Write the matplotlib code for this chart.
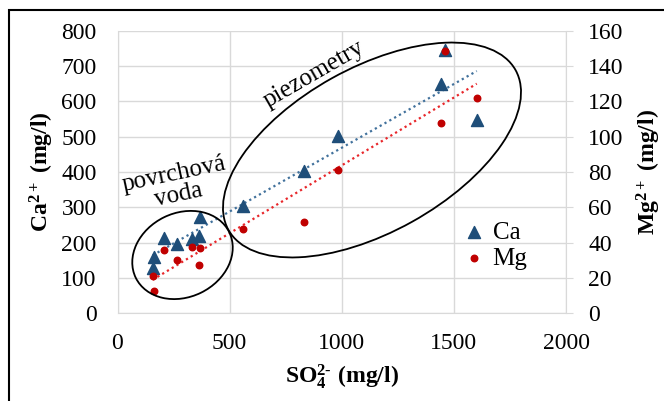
import numpy as np
import matplotlib
matplotlib.use('Agg')
import matplotlib.pyplot as plt
from matplotlib.patches import Ellipse, Rectangle
from matplotlib.transforms import IdentityTransform

plt.rcParams['font.family'] = 'Liberation Serif'
plt.rcParams['mathtext.fontset'] = 'custom'
plt.rcParams['mathtext.rm'] = 'Liberation Serif:bold'
plt.rcParams['mathtext.it'] = 'Liberation Serif:bold'
plt.rcParams['mathtext.bf'] = 'Liberation Serif:bold'

# data
so4 = [157, 162, 206, 266, 333, 362, 368, 558, 833, 984, 1442, 1460, 1602]
ca = [127, 160, 213, 197, 210, 220, 272, 304, 404, 501, 650, 745, 548]
mg = [21.4, 12.4, 36, 30.4, 37.4, 27.2, 37, 47.7, 51.8, 81, 107.8, 148.7, 122]

ca_color = '#1F4E79'
mg_color = '#C00000'
grid_color = '#D9D9D9'

fig = plt.figure(figsize=(6.64, 4.01), dpi=100)
ax = fig.add_axes([117.5/664, 1-313.3/401, 448.5/664, 282.6/401])
ax2 = ax.twinx()

ax.set_xlim(0, 2000)
ax.set_ylim(0, 800)
ax2.set_ylim(0, 160)
ax.set_xticks(np.arange(0, 2001, 500))
ax.set_yticks(np.arange(0, 801, 100))
ax2.set_yticks(np.arange(0, 161, 20))

ax.grid(True, color=grid_color, linewidth=1)
ax.set_axisbelow(True)
for a in (ax, ax2):
    for s in a.spines.values():
        s.set_visible(False)
ax.spines['left'].set_visible(True)
ax.spines['left'].set_color(grid_color)
ax.spines['bottom'].set_visible(True)
ax.spines['bottom'].set_color(grid_color)
ax2.spines['right'].set_visible(True)
ax2.spines['right'].set_color(grid_color)

ax.tick_params(axis='x', length=0, labelsize=17, pad=14)
ax.tick_params(axis='y', length=0, labelsize=17, pad=15)
ax2.tick_params(axis='y', length=5, color=grid_color, labelsize=17, pad=11)

# scatter
ax.scatter(so4, ca, marker='^', s=75, color=ca_color, zorder=3, label='Ca')
ax2.scatter(so4, mg, marker='o', s=22, color=mg_color, zorder=3, label='Mg')

# linear trendlines
xs = np.array([min(so4), max(so4)])
k, q = np.polyfit(so4, ca, 1)
ax.plot(xs, k*xs + q, linestyle=(0, (1, 1.5)), color='#41719C', linewidth=1.6, zorder=2)
k2, q2 = np.polyfit(so4, mg, 1)
ax2.plot(xs, k2*xs + q2, linestyle=(0, (1, 1.5)), color='#E8262A', linewidth=1.6, zorder=2)

ax.set_ylabel(r'$\mathrm{Ca}^{2+}\ \mathrm{(mg/l)}$', fontsize=17, labelpad=4)
ax2.set_ylabel(r'$\mathrm{Mg}^{2+}\ \mathrm{(mg/l)}$', fontsize=17, labelpad=8)
ax.set_xlabel(r'$\mathrm{SO}_4^{2\text{-}}\ \mathrm{(mg/l)}$', fontsize=17, labelpad=6)

h1, l1 = ax.get_legend_handles_labels()
h2, l2 = ax2.get_legend_handles_labels()
ax2.legend(h1 + h2, l1 + l2, loc='center left', bbox_to_anchor=(0.725, 0.24),
           frameon=False, fontsize=18, handletextpad=0.0, labelspacing=0.15,
           borderpad=0, handlelength=1.5)

# ellipses and notes (pixel coordinates)
H = 401
fig.add_artist(Ellipse((372, H-150), 328.6, 164.4, angle=29.1, fill=False,
                       edgecolor='black', linewidth=1.3, transform=IdentityTransform()))
fig.add_artist(Ellipse((182.5, H-255), 104, 84, angle=26, fill=False,
                       edgecolor='black', linewidth=1.3, transform=IdentityTransform()))
fig.text(314, H-74, 'piezometry', fontsize=18, rotation=30, ha='center', va='center',
         rotation_mode='anchor', transform=IdentityTransform())
fig.text(176, H-185, 'povrchová\nvoda', fontsize=18, rotation=12, ha='center', va='center',
         multialignment='center', linespacing=0.95, rotation_mode='anchor',
         transform=IdentityTransform())

# outer frame
fig.add_artist(Rectangle((9, -20), 700, H-10+20, fill=False, edgecolor='black',
                         linewidth=1.5, transform=IdentityTransform()))

fig.savefig('out.png', dpi=100)
